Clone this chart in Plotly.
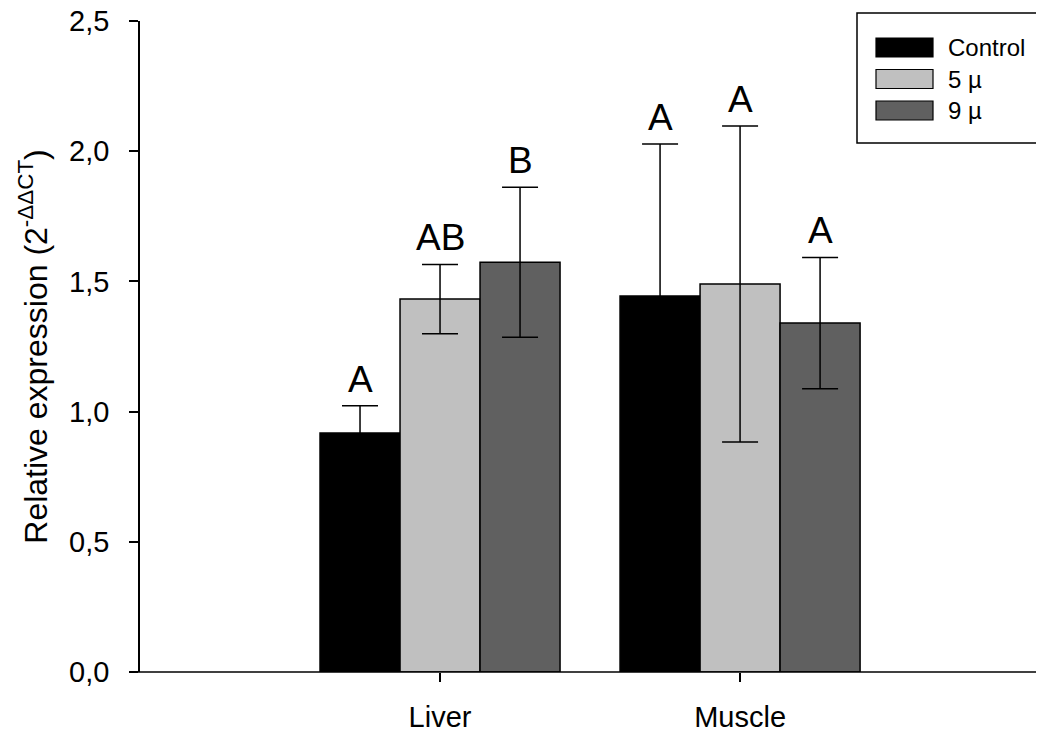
import plotly.graph_objects as go

categories = ["Liver", "Muscle"]
series_names = ["Control", "5 µ", "9 µ"]
series_colors = ["#000000", "#c0c0c0", "#606060"]
means = {
    "Control": [0.918, 1.444],
    "5 µ": [1.432, 1.490],
    "9 µ": [1.574, 1.340],
}
errors = {
    "Control": [0.104, 0.584],
    "5 µ": [0.133, 0.607],
    "9 µ": [0.288, 0.252],
}
letters = {
    "Control": ["A", "A"],
    "5 µ": ["AB", "A"],
    "9 µ": ["B", "A"],
}
y_ticks = [0.0, 0.5, 1.0, 1.5, 2.0, 2.5]

FONT = "Liberation Sans, Arial, sans-serif"

# the page body has an 8px margin; compensate so the picture matches the window
OFF = 8
W, H = 1044 - OFF, 736 - OFF

fig = go.Figure()
for name, color in zip(series_names, series_colors):
    fig.add_trace(go.Bar(
        name=name,
        x=[0, 1],
        y=means[name],
        marker=dict(color=color, line=dict(color="#000000", width=1.5)),
        error_y=dict(type="data", array=errors[name], visible=True,
                     color="#000000", thickness=1.5, width=18),
        showlegend=False,
    ))

# significance letters above error bars
n = len(series_names)
group_width = 0.8
for i, name in enumerate(series_names):
    for j, cat in enumerate(categories):
        xpos = j + (i - (n - 1) / 2) * group_width / n
        fig.add_annotation(
            x=xpos, y=means[name][j] + errors[name][j],
            xref="x", yref="y", text=letters[name][j], showarrow=False,
            yanchor="bottom", yshift=4,
            font=dict(family=FONT, size=37, color="#000000"),
        )

# plot area in window pixels (as in the reference)
plot_left, plot_right, plot_top, plot_bottom = 140, 1044, 21, 672
pw = plot_right - plot_left
ph = plot_bottom - plot_top

def px(x):
    return (x - plot_left) / pw

def py(y):
    return (plot_bottom - y) / ph

# manual legend (paper coordinates)
fig.add_shape(type="rect", xref="paper", yref="paper",
              x0=px(857), x1=px(1042), y0=py(143), y1=py(13),
              line=dict(color="#000000", width=1.5), fillcolor="rgba(0,0,0,0)")
row_centers = [47.5, 79, 110.5]
for name, color, yc in zip(series_names, series_colors, row_centers):
    fig.add_shape(type="rect", xref="paper", yref="paper",
                  x0=px(876), x1=px(933), y0=py(yc + 9.5), y1=py(yc - 9.5),
                  line=dict(color="#000000", width=1.2), fillcolor=color)
    fig.add_annotation(x=px(946), y=py(yc), xref="paper", yref="paper",
                       text=name, showarrow=False, xanchor="left", yanchor="middle",
                       font=dict(family=FONT, size=24, color="#000000"))

# x axis baseline extending slightly left of the y axis
fig.add_shape(type="line", xref="paper", yref="paper",
              x0=px(129), x1=1, y0=0, y1=0,
              line=dict(color="#000000", width=1.5), layer="above")

fig.update_layout(
    width=W, height=H,
    margin=dict(l=plot_left - OFF, r=1044 - plot_right, t=plot_top - OFF,
                b=736 - plot_bottom, pad=0, autoexpand=False),
    paper_bgcolor="#ffffff", plot_bgcolor="#ffffff",
    barmode="group", bargap=0.2, bargroupgap=0.0,
    separators=",.",
    font=dict(family=FONT, color="#000000"),
    xaxis=dict(
        range=[-1.0, 2.013], tickmode="array", tickvals=[0, 1], ticktext=categories,
        ticks="outside", ticklen=9, tickwidth=1.5, tickcolor="#000000",
        showline=False, showgrid=False, zeroline=False, automargin=False,
        tickfont=dict(family=FONT, size=29, color="#000000"),
        ticklabelstandoff=10,
    ),
    yaxis=dict(
        range=[0, 2.5], tickmode="array", tickvals=y_ticks, tickformat=".1f",
        ticks="outside", ticklen=9, tickwidth=1.5, tickcolor="#000000",
        showline=True, linecolor="#000000", linewidth=1.5,
        showgrid=False, zeroline=False, automargin=False,
        tickfont=dict(family=FONT, size=29, color="#000000"),
        ticklabelstandoff=14, ticklabeloverflow="allow",
        title=dict(text="Relative expression (2<sup>-ΔΔCT</sup>)",
                   font=dict(family=FONT, size=32, color="#000000"), standoff=12),
    ),
)

fig.write_html("out.html")
